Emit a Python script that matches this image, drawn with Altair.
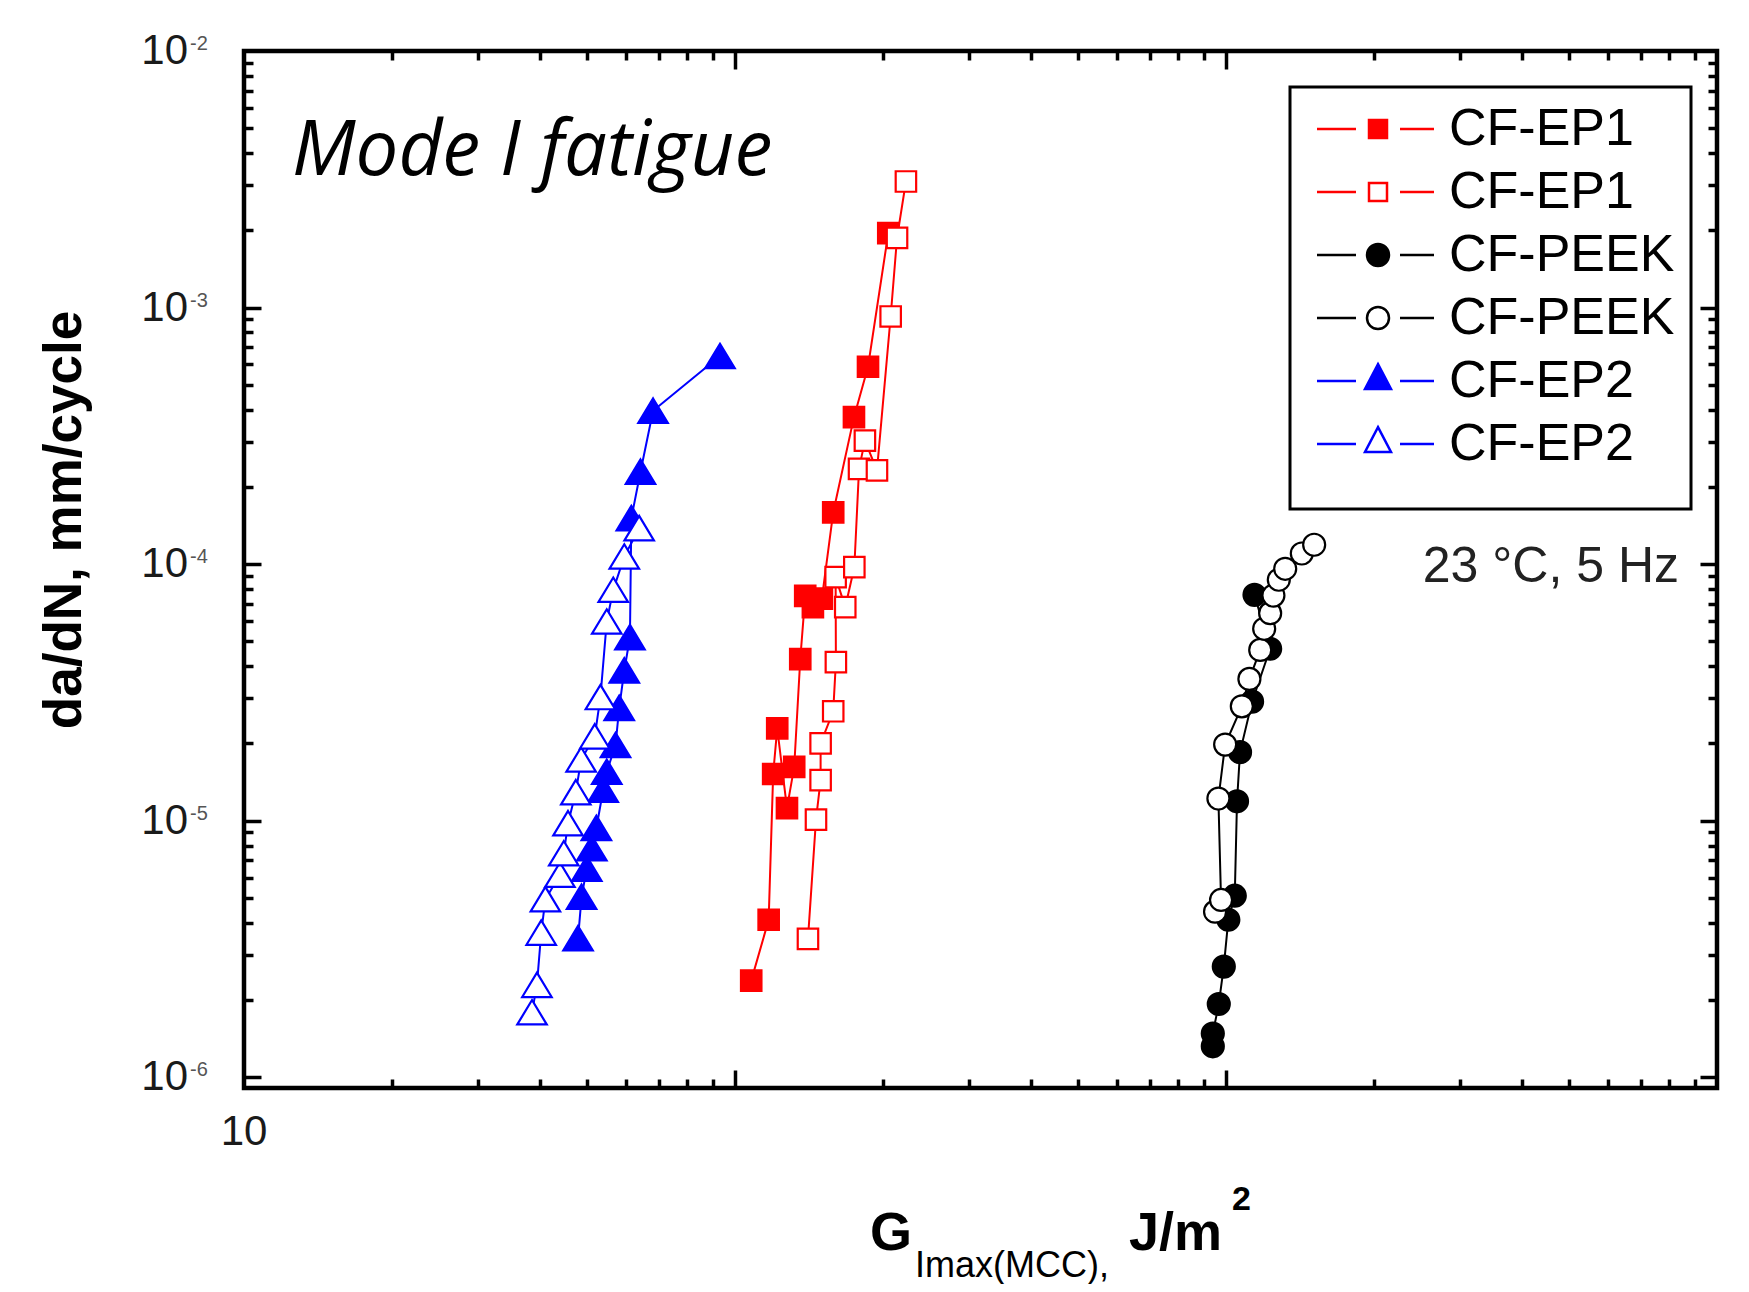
import altair as alt
import pandas as pd

# ---------------- data ----------------
series_names = ["CF-EP1 filled", "CF-EP1 open", "CF-PEEK filled",
                "CF-PEEK open", "CF-EP2 filled", "CF-EP2 open"]

ep1_filled_G = [107.9, 117.1, 119.6, 121.9, 127.6, 132.0, 135.8, 139.0,
                144.1, 150.3, 158.5, 174.7, 186.6, 205.2]
ep1_filled_dadn = [2.38e-6, 4.11e-6, 1.52e-5, 2.29e-5, 1.12e-5, 1.62e-5,
                   4.26e-5, 7.52e-5, 6.80e-5, 7.34e-5, 1.59e-4, 3.74e-4,
                   5.88e-4, 1.95e-3]

ep1_open_G = [140.8, 146.2, 149.4, 149.4, 158.5, 160.5, 160.3, 167.7,
              175.0, 178.9, 183.9, 194.6, 207.5, 213.8, 222.9]
ep1_open_dadn = [3.46e-6, 1.01e-5, 1.44e-5, 2.00e-5, 2.67e-5, 4.15e-5,
                 8.90e-5, 6.80e-5, 9.73e-5, 2.35e-4, 3.03e-4, 2.32e-4,
                 9.23e-4, 1.87e-3, 3.10e-3]

peek_filled_G = [940, 940, 966.7, 989.7, 1011, 1042, 1053, 1068, 1130,
                 1230, 1143]
peek_filled_dadn = [1.32e-6, 1.48e-6, 1.93e-6, 2.70e-6, 4.11e-6, 5.10e-6,
                    1.19e-5, 1.85e-5, 2.91e-5, 4.68e-5, 7.59e-5]

peek_open_G = [950, 977, 965, 996, 1077, 1116, 1174, 1196, 1230, 1249,
               1281, 1320, 1427, 1512]
peek_open_dadn = [4.42e-6, 4.91e-6, 1.22e-5, 1.98e-5, 2.79e-5, 3.57e-5,
                  4.63e-5, 5.60e-5, 6.44e-5, 7.54e-5, 8.69e-5, 9.59e-5,
                  1.10e-4, 1.19e-4]

ep2_filled_G = [47.9, 48.7, 49.9, 51.1, 52.2, 53.9, 54.8, 57.1, 58.1,
                59.5, 61.1, 61.5, 64.2, 68.1, 93.2]
ep2_filled_dadn = [3.48e-6, 5.05e-6, 6.5e-6, 7.8e-6, 9.37e-6, 1.32e-5,
                   1.55e-5, 1.97e-5, 2.75e-5, 3.85e-5, 5.19e-5, 1.51e-4,
                   2.29e-4, 3.96e-4, 6.47e-4]

ep2_open_G = [38.6, 39.5, 40.3, 41.1, 44.0, 44.8, 45.7, 47.4, 48.6, 51.8,
              53.2, 54.8, 56.5, 59.5, 63.8]
ep2_open_dadn = [1.79e-6, 2.29e-6, 3.66e-6, 4.94e-6, 6.15e-6, 7.46e-6,
                 9.77e-6, 1.29e-5, 1.73e-5, 2.13e-5, 3.03e-5, 5.97e-5,
                 7.94e-5, 1.07e-4, 1.38e-4]

y_tick_values = [1e-2, 1e-3, 1e-4, 1e-5, 1e-6]
y_tick_base = ["10", "10", "10", "10", "10"]
y_tick_exp = ["-2", "-3", "-4", "-5", "-6"]
x_tick_values = [10]
x_tick_labels = ["10"]

x_major = [100, 1000]
x_minor = [k * 10 ** e for e in (1, 2, 3) for k in range(2, 10)]
y_major = [1e-6, 1e-5, 1e-4, 1e-3]
y_minor = [k * 10.0 ** e for e in (-6, -5, -4, -3) for k in range(2, 10)]

# ---------------- styles ----------------
line_colors = ["#ff0000", "#ff0000", "#000000", "#000000", "#0000ff", "#0000ff"]
fill_colors = ["#ff0000", "#ffffff", "#000000", "#ffffff", "#0000ff", "#ffffff"]

SQ = "M-0.93,-0.93H0.93V0.93H-0.93Z"
CI = "M1,0A1,1,0,1,1,-1,0A1,1,0,1,1,1,0Z"
TR = "M0,-1.12L1.34,1.1L-1.34,1.1Z"
marker_paths = [SQ, SQ, CI, CI, TR, TR]

LN = "M-3.05,0H-1.1M1.1,0H2.8"
LSQ = LN + "M-0.45,-0.45H0.45V0.45H-0.45Z"
LCI = LN + "M0.55,0A0.55,0.55,0,1,1,-0.55,0A0.55,0.55,0,1,1,0.55,0Z"
LTR = LN + "M0,-0.84L0.65,0.4L-0.65,0.4Z"
legend_paths = [LSQ, LSQ, LCI, LCI, LTR, LTR]

# ---------------- table ----------------
draw_order = [
    ("CF-EP1 filled", ep1_filled_G, ep1_filled_dadn),
    ("CF-PEEK filled", peek_filled_G, peek_filled_dadn),
    ("CF-EP2 filled", ep2_filled_G, ep2_filled_dadn),
    ("CF-EP1 open", ep1_open_G, ep1_open_dadn),
    ("CF-PEEK open", peek_open_G, peek_open_dadn),
    ("CF-EP2 open", ep2_open_G, ep2_open_dadn),
]
rows = []
for name, gs, ds in draw_order:
    for i, (g, d) in enumerate(zip(gs, ds)):
        rows.append({"series": name, "G": g, "dadn": d, "idx": i})
df = pd.DataFrame(rows)

xscale = alt.Scale(type="log", domain=[10, 10000], nice=False)
yscale = alt.Scale(type="log", domain=[9.08e-7, 1e-2], nice=False)


def tick_axis(orient, values, size):
    return alt.Axis(orient=orient, values=values, labels=False, domain=False,
                    grid=False, ticks=True, tickSize=size, tickWidth=3.5,
                    tickColor="black", offset=-size, title=None)


FONT = "Liberation Sans"

lines = alt.Chart(df).mark_line(strokeWidth=2).encode(
    x=alt.X("G:Q", scale=xscale, axis=tick_axis("bottom", x_major, 18)),
    y=alt.Y("dadn:Q", scale=yscale, axis=tick_axis("left", y_major, 17)),
    color=alt.Color("series:N", scale=alt.Scale(domain=series_names, range=line_colors), legend=None),
    order="idx:Q",
)

points = alt.Chart(df).mark_point(filled=True, opacity=1, size=484, strokeWidth=2.2).encode(
    x=alt.X("G:Q", scale=xscale, axis=tick_axis("bottom", x_minor, 9)),
    y=alt.Y("dadn:Q", scale=yscale, axis=tick_axis("left", y_minor, 9)),
    shape=alt.Shape("series:N", scale=alt.Scale(domain=series_names, range=marker_paths), legend=None),
    fill=alt.Fill("series:N", scale=alt.Scale(domain=series_names, range=fill_colors), legend=None),
    stroke=alt.Stroke("series:N", scale=alt.Scale(domain=series_names, range=line_colors), legend=None),
)

legend = alt.Legend(
    orient="none", legendX=1046, legendY=36, padding=16,
    strokeColor="black", fillColor="white",
    symbolSize=1600, symbolStrokeWidth=2.5, symbolOffset=46, symbolOpacity=1,
    labelOffset=45, labelFont=FONT, labelFontSize=52, labelColor="black",
    labelLimit=700, labelExpr="split(datum.label, ' ')[0]",
    rowPadding=11, title=" ", titleOrient="bottom", titleFontSize=20,
    titlePadding=3,
)

leg_layer = alt.Chart(df).transform_filter("false").mark_point(
    filled=True, opacity=1, strokeWidth=2.5).encode(
    x=alt.X("G:Q", scale=xscale, axis=tick_axis("top", x_major, 18)),
    y=alt.Y("dadn:Q", scale=yscale, axis=tick_axis("right", y_major, 17)),
    shape=alt.Shape("series:N", scale=alt.Scale(domain=series_names, range=legend_paths), legend=legend),
    fill=alt.Fill("series:N", scale=alt.Scale(domain=series_names, range=fill_colors), legend=legend),
    stroke=alt.Stroke("series:N", scale=alt.Scale(domain=series_names, range=line_colors), legend=legend),
)

ylab_df = pd.DataFrame({"v": y_tick_values, "base": y_tick_base, "exp": y_tick_exp})
ylab = alt.Chart(ylab_df).mark_text(align="right", baseline="middle", font=FONT,
                                    fontSize=42, color="#1a1a1a").encode(
    y=alt.Y("v:Q", scale=yscale, axis=tick_axis("right", y_minor, 9)),
    x=alt.value(-56), text="base:N")
yexp = alt.Chart(ylab_df).mark_text(align="left", baseline="top", dy=-17, font=FONT,
                                    fontSize=20, color="#555555").encode(
    y=alt.Y("v:Q", scale=yscale, axis=None), x=alt.value(-54), text="exp:N")

xlab_df = pd.DataFrame({"v": x_tick_values, "t": x_tick_labels})
xlab = alt.Chart(xlab_df).mark_text(align="center", baseline="middle", font=FONT,
                                    fontSize=42, color="#1a1a1a").encode(
    x=alt.X("v:Q", scale=xscale, axis=tick_axis("top", x_minor, 9)),
    y=alt.value(1081), text="t:N")


def note(text, x, y, **mk):
    return alt.Chart(pd.DataFrame({"t": [text]})).mark_text(**mk).encode(
        x=alt.value(x), y=alt.value(y), text="t:N")


notes = [
    note("Mode I fatigue", 48, 124, align="left", baseline="alphabetic",
         font="Open Sans", fontStyle="italic", fontSize=76, color="black"),
    note("23 °C, 5 Hz", 1435, 531, align="right", baseline="alphabetic",
         font=FONT, fontSize=50, color="#222222"),
    note("da/dN, mm/cycle", -179, 469, align="center", baseline="middle", angle=270,
         font=FONT, fontSize=53, fontWeight="bold", color="black"),
    note("G", 626, 1199, align="left", baseline="alphabetic", font=FONT,
         fontSize=54, fontWeight="bold", color="black"),
    note("Imax(MCC),", 671, 1226, align="left", baseline="alphabetic", font=FONT,
         fontSize=36, color="black"),
    note("J/m", 885, 1199, align="left", baseline="alphabetic", font=FONT,
         fontSize=54, fontWeight="bold", color="black"),
    note("2", 988, 1159, align="left", baseline="alphabetic", font=FONT,
         fontSize=34, fontWeight="bold", color="black"),
]

chart = alt.layer(lines, points, leg_layer, ylab, yexp, xlab, *notes).resolve_scale(
    shape="independent", fill="independent", stroke="independent"
).resolve_axis(
    x="independent", y="independent"
).properties(
    width=1473, height=1037,
    padding={"left": 236, "top": 43, "right": 24, "bottom": 196},
    autosize=alt.AutoSizeParams(type="none"),
).configure_view(
    stroke="black", strokeWidth=4.5
).configure_legend(
    strokeWidth=3
)

chart.save("out.html", embed_options={"renderer": "svg", "actions": False})
